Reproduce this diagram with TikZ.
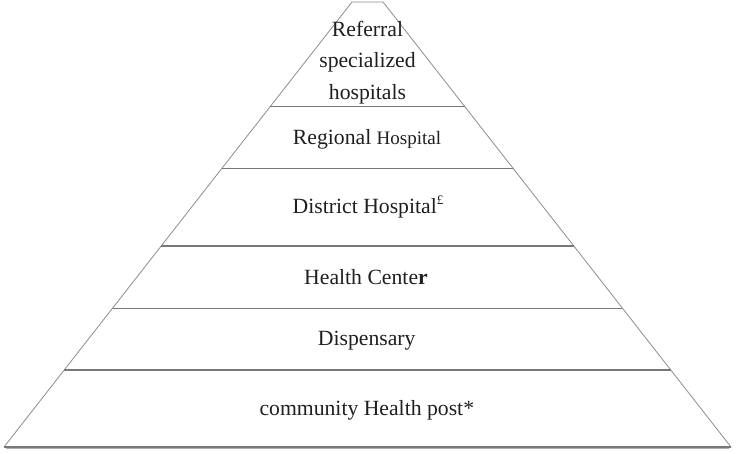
\documentclass[tikz,border=0pt]{standalone}
\usepackage{fontspec}
\setmainfont{Liberation Serif}
\definecolor{edgegray}{rgb}{0.55,0.55,0.55}
\definecolor{sepgray}{rgb}{0.47,0.47,0.47}
\definecolor{txt}{rgb}{0.12,0.12,0.12}
\begin{document}
\begin{tikzpicture}[x=1pt,y=-1pt,
  outline/.style={draw=edgegray,line width=0.8pt,line join=round},
  sep/.style={draw=sepgray,line width=1.3pt},
  lbl/.style={anchor=base,text=txt,inner sep=0pt,font=\fontsize{21.7}{31}\selectfont}]
\useasboundingbox (0,0) rectangle (736,454);
% outline
\coordinate (tl) at (352,2);
\coordinate (tr) at (383,2);
\coordinate (bl) at (4,447);
\coordinate (br) at (731,447);
\draw[outline] (tl) -- (tr) -- (br) -- (bl) -- cycle;
% separators (left x = 352-0.7817*(y-2), right x = 383+0.7817*(y-2))
\draw[sep] (270.2,106.7) -- (464.8,106.7);
\draw[sep] (222.0,168.3) -- (513.0,168.3);
\draw[sep] (161.3,246) -- (573.7,246);
\draw[sep] (112.6,308.3) -- (622.4,308.3);
\draw[sep] (64.2,370) -- (670.8,370);
\draw[draw=sepgray!60,line width=1.2pt] (6,448.5) -- (729,448.5);
\draw[sep] (4,447) -- (731,447);
% labels
\node[lbl] (l1) at (367.5,37) {Referral};
\node[lbl] (l2) at (367.5,68) {specialized};
\node[lbl] (l3) at (367.5,99.5) {hospitals};
\node[lbl] (reg) at (367,144.3) {Regional {\fontsize{19}{22}\selectfont Hospital}};
\node[lbl] (dis) at (368,214) {District Hospital{\raisebox{0.45em}{\fontsize{13}{15}\selectfont £}}};
\node[lbl] (hc) at (366,285) {Health Cente\textbf{r}};
\node[lbl] (dp) at (366.7,345) {Dispensary};
\node[lbl] (chp) at (366.8,415) {community Health post*};
\end{tikzpicture}
\end{document}
